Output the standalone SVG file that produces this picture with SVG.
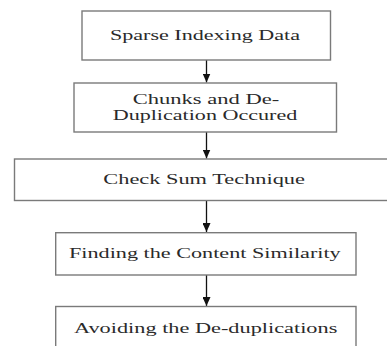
<svg xmlns="http://www.w3.org/2000/svg" width="387" height="346" viewBox="0 0 387 346">
  <style>
    .box { fill: #ffffff; stroke: #7a7a7a; stroke-width: 1.4; }
    .lbl { font-family: "Liberation Serif", "Times New Roman", serif; font-size: 15px; fill: #2a2a2a; }
    .wire { stroke: #111111; stroke-width: 1.3; fill: none; }
  </style>
  <defs>
    <marker id="arrow" markerWidth="10" markerHeight="8" refX="9" refY="4" orient="auto" markerUnits="userSpaceOnUse">
      <path d="M0,0 L9,4 L0,8 Z" fill="#111111"/>
    </marker>
  </defs>
  <rect width="387" height="346" fill="#ffffff"/>

  <g id="connectors">
    <line class="wire" x1="206.5" y1="60" x2="206.5" y2="82.5" marker-end="url(#arrow)"/>
    <line class="wire" x1="206.5" y1="132" x2="206.5" y2="158.5" marker-end="url(#arrow)"/>
    <line class="wire" x1="206.5" y1="200.5" x2="206.5" y2="232" marker-end="url(#arrow)"/>
    <line class="wire" x1="206.5" y1="275" x2="206.5" y2="306" marker-end="url(#arrow)"/>
  </g>

  <g id="sparse-indexing">
    <rect class="box" x="82" y="11" width="248.5" height="49"/>
    <text class="lbl" x="110" y="39.5" textLength="190" lengthAdjust="spacingAndGlyphs">Sparse Indexing Data</text>
  </g>

  <g id="chunks-dedup">
    <rect class="box" x="74" y="83" width="262.5" height="49"/>
    <text class="lbl" x="132.7" y="104" textLength="146.6" lengthAdjust="spacingAndGlyphs">Chunks and De-</text>
    <text class="lbl" x="112.7" y="119.5" textLength="184.6" lengthAdjust="spacingAndGlyphs">Duplication Occured</text>
  </g>

  <g id="checksum">
    <rect class="box" x="14.5" y="159" width="380" height="41.5"/>
    <text class="lbl" x="103.3" y="184" textLength="201.7" lengthAdjust="spacingAndGlyphs">Check Sum Technique</text>
  </g>

  <g id="content-similarity">
    <rect class="box" x="55.7" y="232.7" width="300.3" height="42.3"/>
    <text class="lbl" x="69" y="257.5" textLength="271.7" lengthAdjust="spacingAndGlyphs">Finding the Content Similarity</text>
  </g>

  <g id="avoid-dedup">
    <rect class="box" x="55.7" y="306.5" width="300.3" height="60"/>
    <text class="lbl" x="74" y="332.5" textLength="263.3" lengthAdjust="spacingAndGlyphs">Avoiding the De-duplications</text>
  </g>
</svg>
